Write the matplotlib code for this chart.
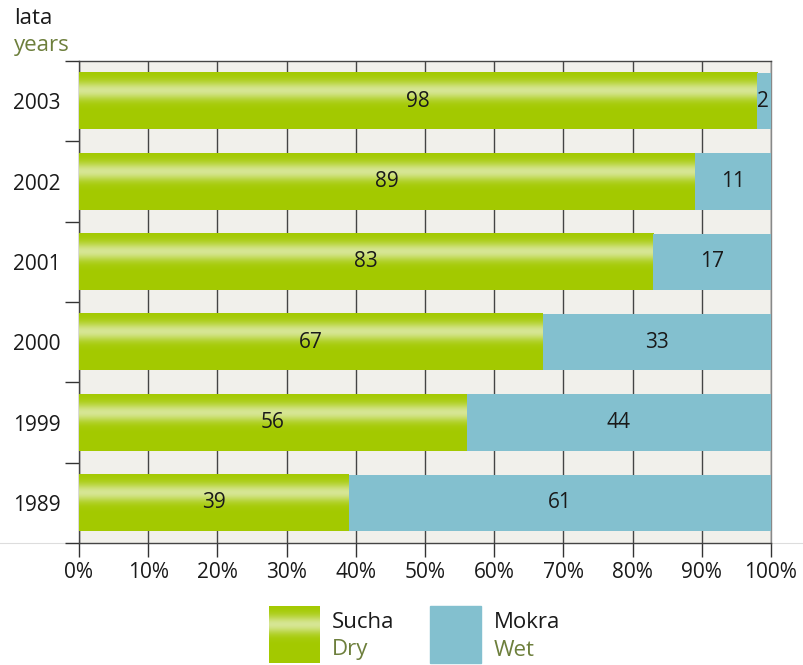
import numpy as np
import matplotlib.pyplot as plt
from matplotlib.patches import Rectangle
from matplotlib.lines import Line2D
from matplotlib import font_manager

years = ["1989", "1999", "2000", "2001", "2002", "2003"]
dry = [39, 56, 67, 83, 89, 98]
wet = [61, 44, 33, 17, 11, 2]
xticks = [0, 10, 20, 30, 40, 50, 60, 70, 80, 90, 100]

names = {f.name for f in font_manager.fontManager.ttflist}
fam = [n for n in ["Liberation Sans Narrow", "Open Sans", "DejaVu Sans"] if n in names]
plt.rcParams["font.family"] = fam

blue = "#83c0cf"
olive = "#6d7f3c"
bg = "#f1f0eb"

# vertical gradient for the dry bars: light band in the upper part
t = np.linspace(0, 1, 64)
light = np.exp(-((t - 0.68) / 0.16) ** 2)
c0 = np.array([0.64, 0.79, 0.0])
c1 = np.array([0.84, 0.90, 0.58])
grad = (c0[None, :] * (1 - light[:, None]) + c1[None, :] * light[:, None])[:, None, :]

fig = plt.figure(figsize=(8.04, 6.65), dpi=100)
ax = fig.add_axes([79 / 804, 1 - 543 / 665, 692 / 804, 482 / 665])
ax.set_facecolor(bg)

h = 0.7
y = np.arange(len(years))
for i in range(len(years)):
    ax.imshow(grad, extent=[0, dry[i], y[i] - h / 2, y[i] + h / 2],
              aspect="auto", origin="lower", zorder=3)
ax.barh(y, wet, left=dry, height=h, color=blue, zorder=3)

for i in range(len(years)):
    ax.text(dry[i] / 2, y[i], str(dry[i]), ha="center", va="center",
            fontsize=15, color="#1a1a1a", zorder=4)
    ax.text(dry[i] + max(wet[i], 2.4) / 2 - (0.3 if wet[i] < 3 else 0), y[i], str(wet[i]),
            ha="center", va="center", fontsize=15, color="#1a1a1a", zorder=4)

ax.set_xlim(0, 100)
ax.set_ylim(-0.5, len(years) - 0.5)
ax.set_xticks(xticks)
ax.set_xticklabels([f"{v}%" for v in xticks], fontsize=15, color="#1a1a1a")
ax.set_yticks(y)
ax.set_yticklabels(years, fontsize=15, color="#1a1a1a")
ax.set_yticks(np.arange(len(years) + 1) - 0.5, minor=True)
ax.tick_params(axis="y", which="major", length=0, pad=13)
ax.tick_params(axis="y", which="minor", length=10, width=1, color="#333333")
ax.tick_params(axis="x", length=10, width=1, color="#333333", pad=4)
ax.grid(axis="x", color="#444444", linewidth=1, zorder=1)
for s in ax.spines.values():
    s.set_color("#444444")
    s.set_linewidth(1)
ax.spines["right"].set_color("#888888")

fig.add_artist(Line2D([0, 1], [1 - 543 / 665] * 2, color="#dddddd", lw=0.8,
                      transform=fig.transFigure, zorder=0))

fig.text(14 / 804, 1 - 18 / 665, "lata", fontsize=16, color="#1a1a1a", va="center")
fig.text(14 / 804, 1 - 45 / 665, "years", fontsize=16, color=olive, va="center")

# legend
lg_ax = fig.add_axes([269 / 804, 1 - 663 / 665, 51 / 804, 57 / 665])
lg_ax.imshow(grad, extent=[0, 1, 0, 1], aspect="auto", origin="lower")
lg_ax.axis("off")
fig.add_artist(Rectangle((430 / 804, 1 - 663 / 665), 51 / 804, 57 / 665,
                         color=blue, transform=fig.transFigure))
fig.text(332 / 804, 1 - 622 / 665, "Sucha", fontsize=16, color="#1a1a1a", va="center")
fig.text(332 / 804, 1 - 650 / 665, "Dry", fontsize=16, color=olive, va="center")
fig.text(494 / 804, 1 - 622 / 665, "Mokra", fontsize=16, color="#1a1a1a", va="center")
fig.text(494 / 804, 1 - 650 / 665, "Wet", fontsize=16, color=olive, va="center")

fig.savefig("out.png", dpi=100)
